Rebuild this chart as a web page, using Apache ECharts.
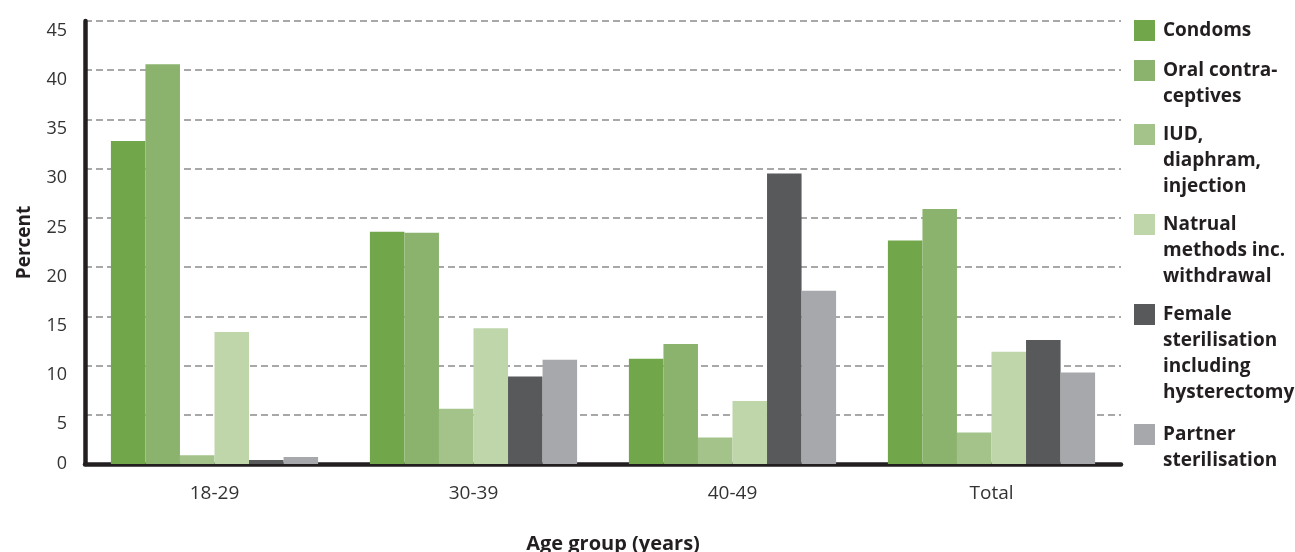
<!DOCTYPE html>
<html>
<head>
<meta charset="utf-8">
<script src="https://cdn.jsdelivr.net/npm/echarts@6/dist/echarts.min.js"></script>
<style>html,body{margin:0;padding:0;background:#fff;}#chart{width:1295px;height:552px;}</style>
</head>
<body>
<div id="chart"></div>
<script>
const categories = ['18-29', '30-39', '40-49', 'Total'];
const seriesNames = ['Condoms', 'Oral contraceptives', 'IUD, diaphram, injection', 'Natrual methods inc. withdrawal', 'Female sterilisation including hysterectomy', 'Partner sterilisation'];
const legendLabels = ['Condoms', 'Oral contra-\nceptives', 'IUD,\ndiaphram,\ninjection', 'Natrual\nmethods inc.\nwithdrawal', 'Female\nsterilisation\nincluding\nhysterectomy', 'Partner\nsterilisation'];
const condoms = [32.8, 23.6, 10.7, 22.7];
const oral = [40.6, 23.5, 12.2, 25.9];
const iud = [0.9, 5.6, 2.7, 3.2];
const natural = [13.4, 13.8, 6.4, 11.4];
const female = [0.4, 8.9, 29.5, 12.6];
const partner = [0.7, 10.6, 17.6, 9.3];
const yTicks = [0, 5, 10, 15, 20, 25, 30, 35, 40, 45];

const values = [condoms, oral, iud, natural, female, partner];
const colors = ['#72a64a', '#8bb36d', '#a3c38a', '#bfd6ab', '#58595b', '#a7a8ab'];
const FONT = 'Open Sans';
const LH = 26;
const iconTops = [20, 60, 124, 214, 304, 424];

const chart = echarts.init(document.getElementById('chart'), null, {renderer: 'canvas'});

const legends = seriesNames.map((name, i) => {
  const lines = legendLabels[i].split('\n');
  const n = lines.length;
  const padded = new Array(n - 1).fill(' ').concat(lines).map(l => '{t|' + l + '}').join('\n');
  const boxTop = 10.5 - (2 * n - 1) * LH / 2;
  return {
    data: [name],
    left: 1134,
    top: iconTops[i] + boxTop,
    padding: 0,
    orient: 'vertical',
    icon: 'rect',
    itemWidth: 21,
    itemHeight: 21,
    itemGap: 0,
    selectedMode: false,
    formatter: () => padded,
    textStyle: {
      fontFamily: FONT, fontWeight: 'bold', fontSize: 19, color: '#231f20',
      lineHeight: LH,
      rich: {t: {fontFamily: FONT, fontWeight: 'bold', fontSize: 19, color: '#231f20', lineHeight: LH, padding: [0, 0, 0, 3]}}
    }
  };
});

chart.setOption({
  animation: false,
  grid: [
    {left: 85, right: 174, top: 21, bottom: 88, outerBoundsMode: 'none', containLabel: false},
    {left: 85, right: 174, top: 30.5, bottom: 78.5, outerBoundsMode: 'none', containLabel: false}
  ],
  legend: legends,
  xAxis: [{
    type: 'category',
    data: categories,
    name: 'Age group (years)',
    nameLocation: 'middle',
    nameGap: 70,
    nameTextStyle: {fontFamily: FONT, fontWeight: 'bold', fontSize: 20, color: '#231f20', padding: [0, 0, 0, 20]},
    axisLine: {lineStyle: {color: '#231f20', width: 4.5}},
    axisTick: {show: false},
    axisLabel: {fontFamily: FONT, fontSize: 19, color: '#333', margin: 20}
  }, {
    type: 'category',
    data: categories,
    gridIndex: 1,
    show: false
  }],
  yAxis: [{
    type: 'value',
    min: 0, max: 45, interval: 5,
    name: 'Percent',
    nameLocation: 'middle',
    nameGap: 51,
    nameTextStyle: {fontFamily: FONT, fontWeight: 'bold', fontSize: 19, color: '#231f20'},
    axisLine: {show: true, lineStyle: {color: '#231f20', width: 4.5}},
    axisTick: {show: false},
    axisLabel: {fontFamily: FONT, fontSize: 18, color: '#333', margin: 18,
      formatter: v => v === yTicks[0] ? String(v) : ''},
    splitLine: {lineStyle: {color: '#8c8c8c', width: 1.5, type: [7, 4]}}
  }, {
    type: 'value',
    gridIndex: 1,
    min: 0, max: 45, interval: 5,
    axisLine: {show: false},
    axisTick: {show: false},
    splitLine: {show: false},
    axisLabel: {fontFamily: FONT, fontSize: 18, color: '#333', margin: 18,
      formatter: v => (v !== yTicks[0] && yTicks.includes(v)) ? String(v) : ''}
  }],
  series: seriesNames.map((name, i) => ({
    name,
    type: 'bar',
    data: values[i],
    barGap: '0%',
    barCategoryGap: '20%',
    itemStyle: {color: colors[i]}
  }))
});
</script>
</body>
</html>
